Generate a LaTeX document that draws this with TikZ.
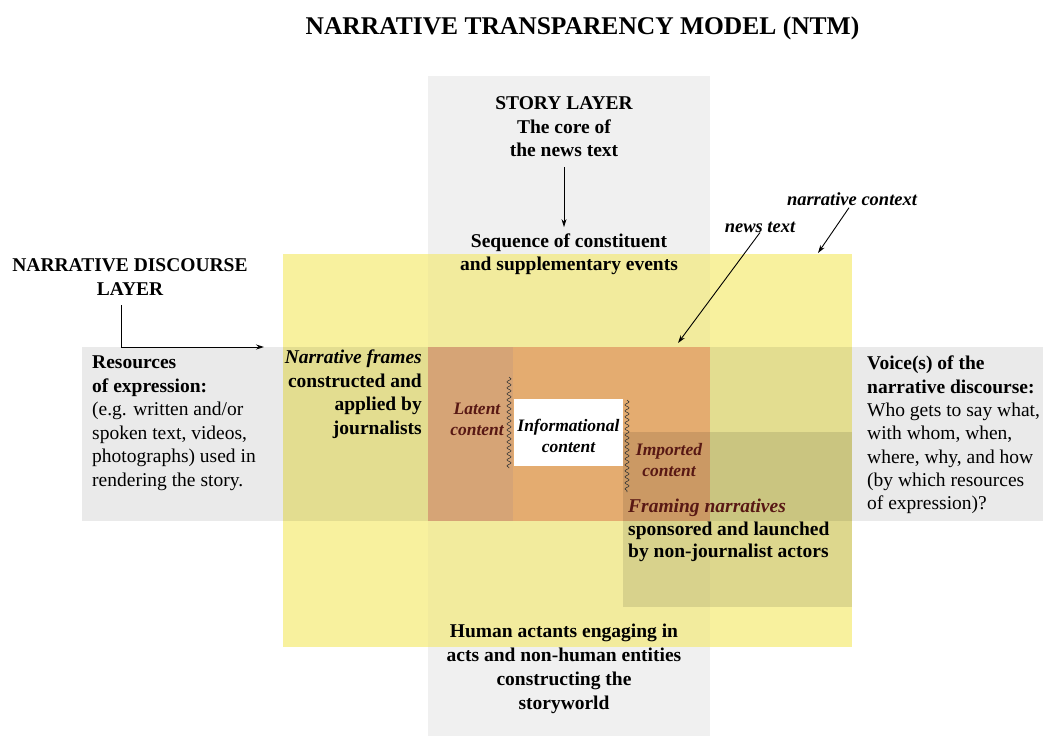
\documentclass[tikz,border=0pt]{standalone}
\usepackage{fontspec}
\setmainfont{Liberation Serif}
\usetikzlibrary{decorations.pathmorphing,arrows.meta}
\definecolor{vgray}{RGB}{240,240,240}
\definecolor{hgray}{RGB}{234,234,234}
\definecolor{ctxyellow}{RGB}{248,241,158}
\definecolor{vyellow}{RGB}{242,235,157}
\definecolor{newsorange}{RGB}{228,172,112}
\definecolor{latentorange}{RGB}{214,164,118}
\definecolor{framegray}{RGB}{228,228,228}
\definecolor{maroon}{RGB}{88,24,20}
\begin{document}
\begin{tikzpicture}[x=1pt,y=-1pt,
  txt/.style={inner sep=0pt, align=center, font=\fontsize{19.5}{23.5}\selectfont},
  txtb/.style={txt, font=\fontsize{19.5}{23.5}\selectfont\bfseries},
  txtbi/.style={txt, font=\fontsize{19.5}{23.5}\selectfont\bfseries\itshape},
  inner/.style={txt, font=\fontsize{17.5}{21}\selectfont\bfseries\itshape},
  arr/.style={draw=black, line width=0.9pt, -{Stealth[length=8pt,width=5pt]}},
  wavy/.style={draw=black!80, line width=0.6pt, decorate,
    decoration={snake, amplitude=2pt, segment length=6pt}}
]
\useasboundingbox (0,0) rectangle (1043,736);
% layers
\fill[vgray] (428,76) rectangle (710,736);
\fill[hgray] (82,347) rectangle (1043,521);
\begin{scope}[blend mode=multiply]
  \fill[ctxyellow] (283,254) rectangle (852,647);
\end{scope}
\fill[vyellow] (428,254) rectangle (710,347);
\fill[vyellow] (428,521) rectangle (710,647);
\fill[newsorange] (513,347) rectangle (710,521);
\fill[latentorange] (428,347) rectangle (513,521);
\begin{scope}[blend mode=multiply]
  \fill[framegray] (623,432) rectangle (852,607);
\end{scope}
\fill[white] (514,399) rectangle (623,466);
\draw[wavy] (509,377) -- (509,468);
\draw[wavy] (627,400) -- (627,492);

% texts
\node[txtb, font=\fontsize{25.5}{30}\selectfont\bfseries] (title) at (582.5,28) {NARRATIVE TRANSPARENCY MODEL (NTM)};
\node[txtb] (story) at (564,127) {STORY LAYER\\The core of\\the news text};
\node[txtb] (seq) at (569,254) {Sequence of constituent\\and supplementary events};
\node[txtb] (ndl) at (130,277) {NARRATIVE DISCOURSE\\LAYER};
\node[txt, anchor=west, align=left] (res) at (92,423) {\textbf{Resources}\\\textbf{of expression:}\\(e.g. written and/or\\spoken text, videos,\\photographs) used in\\rendering the story.};
\node[txtb, anchor=east, align=right] (frames) at (422,394) {\textit{Narrative frames}\\constructed and\\applied by\\journalists};
\node[inner, text=maroon] (latent) at (477,419.5) {Latent\\content};
\node[inner] (info) at (568.5,436) {Informational\\content};
\node[inner, text=maroon] (imported) at (669,460.5) {Imported\\content};
\node[txtb, anchor=west, align=left, font=\fontsize{19.5}{22.5}\selectfont\bfseries] (framing) at (628,530.5) {\textcolor{maroon}{\textit{Framing narratives}}\\sponsored and launched\\by non-journalist actors};
\node[txt, anchor=west, align=left, font=\fontsize{19.5}{23.3}\selectfont] (voice) at (867,435) {\textbf{Voice(s) of the}\\\textbf{narrative discourse:}\\Who gets to say what,\\with whom, when,\\where, why, and how\\(by which resources\\of expression)?};
\node[txtb, font=\fontsize{19.5}{24}\selectfont\bfseries] (human) at (564,669) {Human actants engaging in\\acts and non-human entities\\constructing the\\storyworld};
\node[txtbi, font=\fontsize{18.5}{22}\selectfont\bfseries\itshape] (newslbl) at (760,227) {news text};
\node[txtbi, font=\fontsize{18.5}{22}\selectfont\bfseries\itshape] (ctxlbl) at (852,199) {narrative context};

% connectors
\coordinate (ndlstart) at (121,305);
\coordinate (ndlend) at (264,347);
\coordinate (newsend) at (678,343);
\coordinate (ctxend) at (818,253);
\draw[arr, shorten <=10pt, shorten >=6pt] (story.south) -- (story.south |- seq.north);
\draw[arr] (ndlstart) |- (ndlend);
\draw[arr] (newslbl.south) -- (newsend);
\draw[arr] (ctxlbl.south) ++(-3,2) coordinate (ctxstart) (ctxstart) -- (ctxend);
\end{tikzpicture}
\end{document}
